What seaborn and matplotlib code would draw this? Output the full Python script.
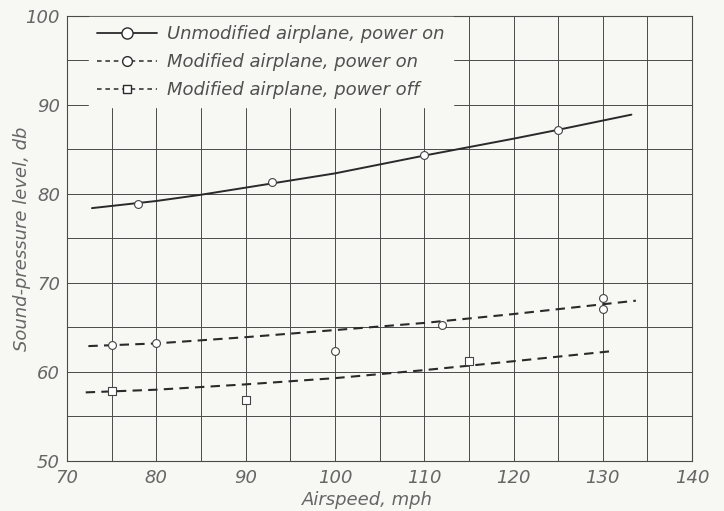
import matplotlib.pyplot as plt
import numpy as np
import pandas as pd
import seaborn as sns
from matplotlib.lines import Line2D
from matplotlib.ticker import MultipleLocator

unmod_on_x = [78, 93, 110, 125]
unmod_on_y = [78.9, 81.3, 84.4, 87.2]
mod_on_x = [75, 80, 100, 112, 130, 130]
mod_on_y = [63.0, 63.3, 62.3, 65.3, 68.3, 67.1]
mod_off_x = [75, 90, 115]
mod_off_y = [57.9, 56.9, 61.2]

# Faired curves
unmod_curve_x = [72.8, 80, 85, 90, 100, 110, 120, 125, 133.2]
unmod_curve_y = [78.4, 79.2, 79.9, 80.7, 82.3, 84.3, 86.2, 87.2, 88.9]
on_curve_x = [72.4, 80, 90, 100, 110, 120, 130, 133.7]
on_curve_y = [62.9, 63.2, 63.9, 64.7, 65.5, 66.5, 67.6, 68.0]
off_curve_x = [72.1, 80, 90, 100, 110, 120, 130.7]
off_curve_y = [57.7, 58.0, 58.6, 59.3, 60.2, 61.2, 62.3]

labels = ["Unmodified airplane, power on",
          "Modified airplane, power on",
          "Modified airplane, power off"]

bg = "#f7f7f4"
ink = "#2a2a2a"
txt = "#666666"

sns.set_theme(style="white")
plt.rcParams['font.family'] = ['DejaVu Sans']

fig = plt.figure(figsize=(7.24, 5.11), dpi=100, facecolor=bg)
ax = fig.add_axes([0.0925, 0.098, 0.8635, 0.871])
ax.set_facecolor(bg)

dash = (0, (4.5, 3))
sns.lineplot(x=unmod_curve_x, y=unmod_curve_y, ax=ax, color=ink, lw=1.4, sort=False)
sns.lineplot(x=on_curve_x, y=on_curve_y, ax=ax, color=ink, lw=1.5, sort=False, linestyle=dash)
sns.lineplot(x=off_curve_x, y=off_curve_y, ax=ax, color=ink, lw=1.5, sort=False, linestyle=dash)

pts = pd.DataFrame({
    "x": unmod_on_x + mod_on_x,
    "y": unmod_on_y + mod_on_y,
})
sns.scatterplot(data=pts, x="x", y="y", ax=ax, marker="o", s=32,
                facecolor="white", edgecolor="#444444", linewidth=0.8, zorder=5)
sns.scatterplot(x=mod_off_x, y=mod_off_y, ax=ax, marker="s", s=26,
                facecolor="white", edgecolor="#444444", linewidth=0.8, zorder=5)

ax.set_xlim(70, 140)
ax.set_ylim(50, 100)
ax.xaxis.set_major_locator(MultipleLocator(10))
ax.yaxis.set_major_locator(MultipleLocator(10))
ax.xaxis.set_minor_locator(MultipleLocator(5))
ax.yaxis.set_minor_locator(MultipleLocator(5))
ax.grid(True, which="both", color="#4a4a4a", lw=0.7)
ax.set_axisbelow(True)
for sp in ax.spines.values():
    sp.set_color("#4a4a4a")
    sp.set_linewidth(0.8)
ax.tick_params(which="both", length=0)
ax.tick_params(axis="x", pad=6)
ax.tick_params(axis="y", pad=5)
for lab in ax.get_xticklabels() + ax.get_yticklabels():
    lab.set_fontsize(13)
    lab.set_color(txt)
    lab.set_style("italic")

ax.set_xlabel("Airspeed, mph", fontsize=13, color=txt, style="italic")
ax.set_ylabel("Sound-pressure level, db", fontsize=13, color=txt, style="italic")
ax.xaxis.set_label_coords(0.48, -0.068)
ax.yaxis.set_label_coords(-0.058, 0.5)

handles = [
    Line2D([], [], color=ink, lw=1.3, marker="o", ms=8, mfc="white", mec=ink),
    Line2D([], [], color=ink, lw=1.1, ls=(0, (3, 2.5)), marker="o", ms=7, mfc="white", mec=ink),
    Line2D([], [], color=ink, lw=1.1, ls=(0, (3, 2.5)), marker="s", ms=6, mfc="white", mec=ink),
]
leg = ax.legend(handles, labels, loc="upper left", bbox_to_anchor=(0.035, 0.997),
                frameon=True, fancybox=False, framealpha=1, edgecolor=bg,
                facecolor=bg, handlelength=3.3, handletextpad=0.6,
                labelspacing=0.55, borderpad=0.45, borderaxespad=0,
                prop={"size": 13, "style": "italic"})
for t in leg.get_texts():
    t.set_color("#505050")

fig.savefig("out.png", dpi=100, facecolor=bg)
